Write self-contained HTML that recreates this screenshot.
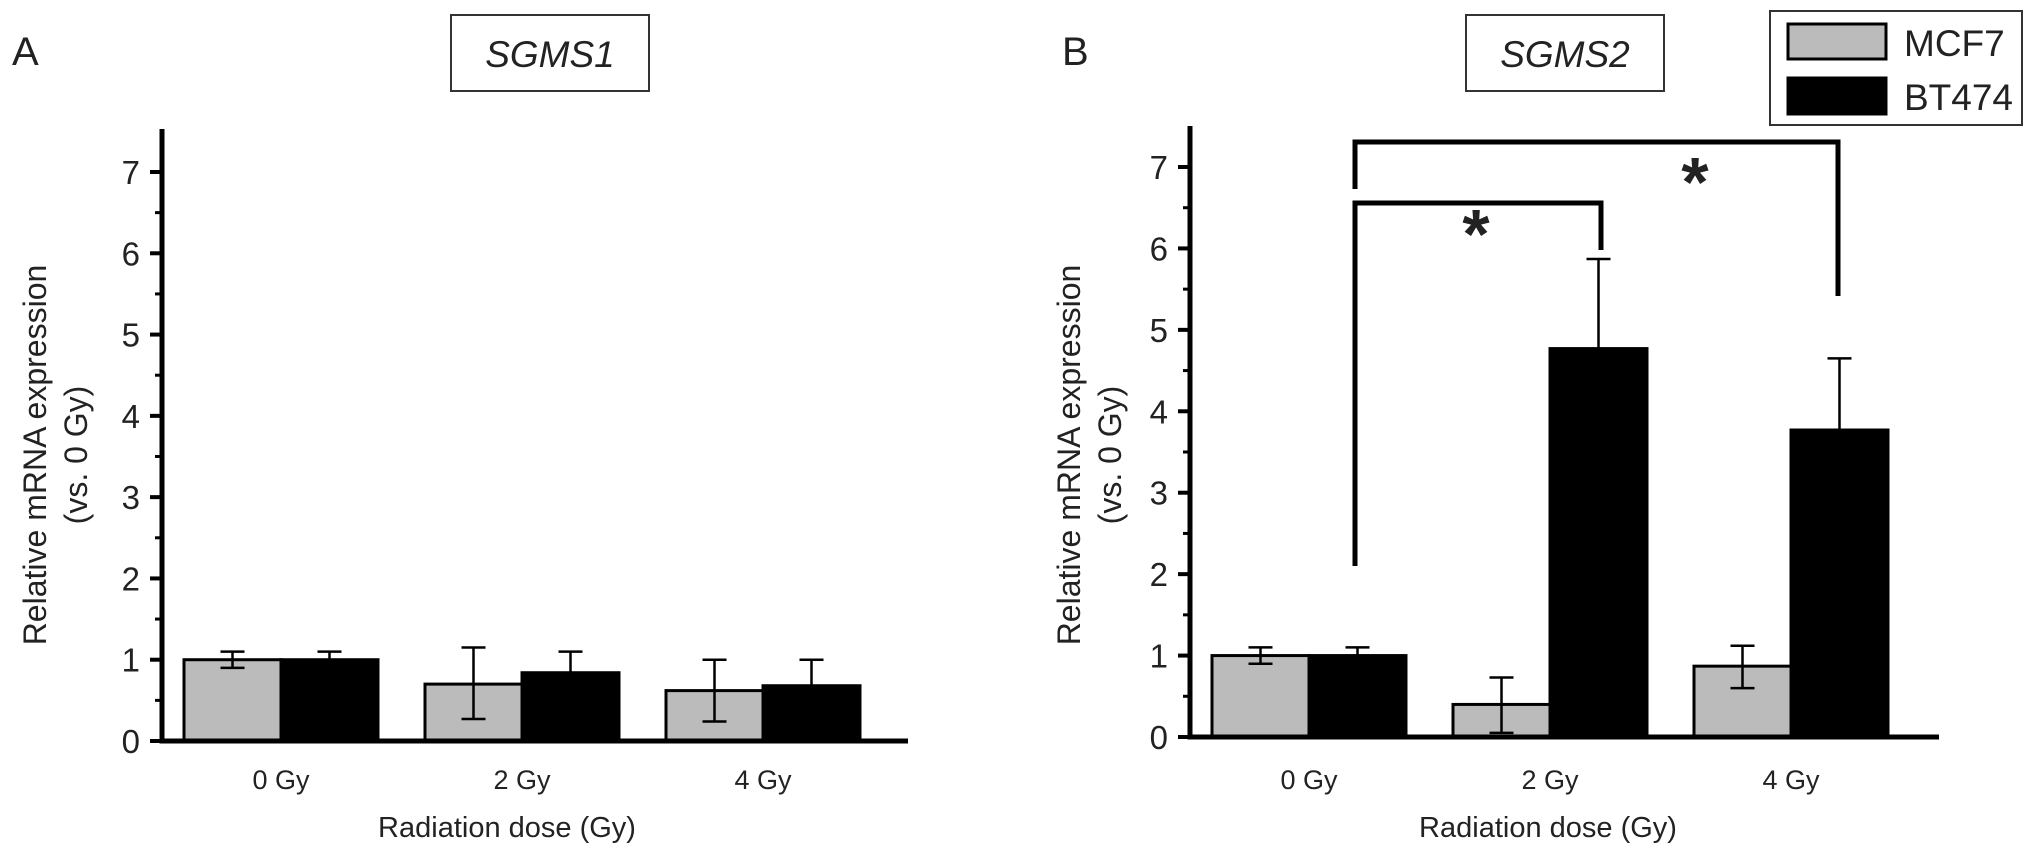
<!DOCTYPE html>
<html><head><meta charset="utf-8"><style>
html,body{margin:0;padding:0;background:#fff}
svg{display:block}
text{font-family:"Liberation Sans",sans-serif;fill:#222}
</style></head><body>
<svg id="fig" width="2032" height="849" viewBox="0 0 2032 849" xmlns="http://www.w3.org/2000/svg"></svg>
<script>
const categories = ["0 Gy","2 Gy","4 Gy"];
const yTicks = [0,1,2,3,4,5,6,7];
const aMcf7 = [1.0, 0.70, 0.62];
const aMcf7Lo = [0.90, 0.27, 0.24];
const aMcf7Hi = [1.10, 1.15, 1.00];
const aBt474 = [1.0, 0.84, 0.68];
const aBt474Hi = [1.10, 1.10, 1.00];
const bMcf7 = [1.0, 0.40, 0.87];
const bMcf7Lo = [0.90, 0.05, 0.60];
const bMcf7Hi = [1.10, 0.73, 1.12];
const bBt474 = [1.0, 4.77, 3.77];
const bBt474Hi = [1.10, 5.87, 4.65];

const NS="http://www.w3.org/2000/svg";
const svg=document.getElementById('fig');
function mk(tag,attrs,parent,txt){const e=document.createElementNS(NS,tag);for(const k in attrs)e.setAttribute(k,attrs[k]);if(txt!==undefined)e.textContent=txt;(parent||svg).appendChild(e);return e;}

function panel(cfg){
  const g=mk('g',{});
  
  
  const y=v=>cfg.y0-(cfg.y0-cfg.y7)*v/7;
  const cx=i=>cfg.c0+i*cfg.step;
  const bw=97;
  const L=mk('text',{x:cfg.letterX,y:65,'font-size':40},g,cfg.letter);
  
  const tb=mk('rect',{x:cfg.boxX,y:15,width:198,height:76,fill:'#fff',stroke:'#333','stroke-width':2},g);
  
  const tt=mk('text',{x:cfg.boxX+99,y:67,'font-size':37,'font-style':'italic','text-anchor':'middle'},g,cfg.title);
  
  for(let i=0;i<categories.length;i++){
    const c=cx(i);
    const r1=mk('rect',{x:c-bw,y:y(cfg.m[i]),width:bw,height:y(0)-y(cfg.m[i]),fill:'#bbb',stroke:'#000','stroke-width':3},g);
    
    const r2=mk('rect',{x:c,y:y(cfg.b[i]),width:bw,height:y(0)-y(cfg.b[i]),fill:'#000',stroke:'#000','stroke-width':3},g);
    
    const ex1=c-bw/2;
    const e1=mk('path',{d:`M${ex1},${y(cfg.mLo[i])}V${y(cfg.mHi[i])}M${ex1-12},${y(cfg.mLo[i])}h24M${ex1-12},${y(cfg.mHi[i])}h24`,stroke:'#000','stroke-width':2.5,fill:'none'},g);
    
    const ex2=c+bw/2;
    const e2=mk('path',{d:`M${ex2},${y(cfg.b[i])}V${y(cfg.bHi[i])}M${ex2-12},${y(cfg.bHi[i])}h24`,stroke:'#000','stroke-width':2.5,fill:'none'},g);
    
    const xl=mk('text',{x:c,y:789,'font-size':27,'text-anchor':'middle'},g,categories[i]);
    
  }
  const ax=mk('path',{d:`M${cfg.ax},${cfg.axTop}V${y(0)}H${cfg.axEnd}`,stroke:'#000','stroke-width':5,fill:'none'},g);
  
  for(const t of yTicks){
    mk('line',{x1:cfg.ax-12,x2:cfg.ax,y1:y(t),y2:y(t),stroke:'#000','stroke-width':4},g);
    if(t<7)mk('line',{x1:cfg.ax-7,x2:cfg.ax,y1:y(t+0.5),y2:y(t+0.5),stroke:'#000','stroke-width':3},g);
    const yl=mk('text',{x:cfg.ax-22,y:y(t)+12,'font-size':33,'text-anchor':'end'},g,String(t));
    
  }
  const yt=mk('text',{transform:`translate(${cfg.ytX},455) rotate(-90)`,'font-size':32,'text-anchor':'middle'},g);
  
  mk('tspan',{x:0,y:0},yt,'Relative mRNA expression');
  mk('tspan',{x:0,y:41},yt,'(vs. 0 Gy)');
  const xt=mk('text',{x:cfg.xtX,y:837,'font-size':29,'text-anchor':'middle'},g,'Radiation dose (Gy)');
  
  return {g,y,cx};
}

panel({name:'panel-a',letter:'A',letterX:12,title:'SGMS1',boxX:451,ax:162,axTop:129,axEnd:908,y0:741,y7:172,c0:281,step:241,
  m:aMcf7,mLo:aMcf7Lo,mHi:aMcf7Hi,b:aBt474,bHi:aBt474Hi,ytX:46,xtX:507});
const pb=panel({name:'panel-b',letter:'B',letterX:1062,title:'SGMS2',boxX:1466,ax:1190,axTop:126,axEnd:1939,y0:737,y7:167,c0:1309,step:241,
  m:bMcf7,mLo:bMcf7Lo,mHi:bMcf7Hi,b:bBt474,bHi:bBt474Hi,ytX:1080,xtX:1548});

const br1=mk('path',{d:'M1355,566V203H1601V250',stroke:'#000','stroke-width':5,fill:'none'},pb.g);

const br2=mk('path',{d:'M1355,189V142H1838V296',stroke:'#000','stroke-width':5,fill:'none'},pb.g);

const s1=mk('text',{x:1476,y:258,'font-size':70,'font-weight':'bold','text-anchor':'middle'},pb.g,'*');

const s2=mk('text',{x:1695,y:206,'font-size':70,'font-weight':'bold','text-anchor':'middle'},pb.g,'*');


const lg=mk('g',{});

mk('rect',{x:1770,y:11,width:252,height:114,fill:'#fff',stroke:'#333','stroke-width':2},lg);
const le1=mk('g',{},lg);

mk('rect',{x:1788,y:24,width:98,height:35,fill:'#bbb',stroke:'#000','stroke-width':3},le1);
mk('text',{x:1904,y:56,'font-size':37},le1,'MCF7');
const le2=mk('g',{},lg);

mk('rect',{x:1788,y:78,width:98,height:36,fill:'#000',stroke:'#000','stroke-width':3},le2);
mk('text',{x:1904,y:110,'font-size':37},le2,'BT474');
</script>
</body></html>
